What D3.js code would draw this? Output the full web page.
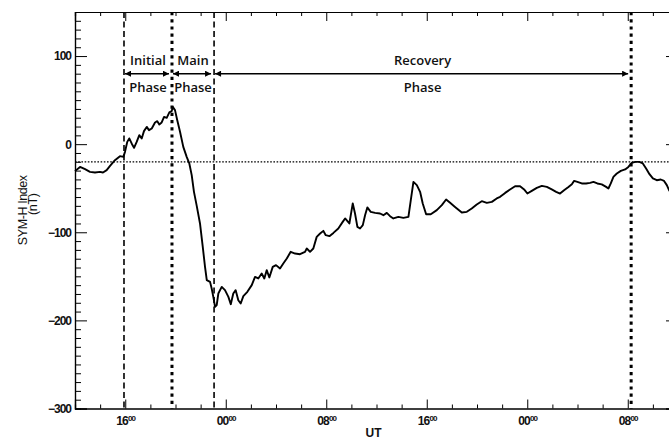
<!DOCTYPE html>
<html>
<head>
<meta charset="utf-8">
<script src="https://cdn.jsdelivr.net/npm/d3@7"></script>
<style>
  body { margin: 0; background: #fff; }
  svg { display: block; }
</style>
</head>
<body>
<svg id="chart" width="669" height="439"></svg>
<script>
// SYM-H index of the storm, hours counted from 12:00 UT on the first day
const hours = [
  0,0.40,0.80,1.19,1.59,1.99,2.23,2.52,2.79,3.18,
  3.58,3.85,3.98,4.16,4.32,4.51,4.70,4.91,5.12,5.31,
  5.49,5.71,5.89,6.11,6.37,6.55,6.71,6.90,7.09,7.30,
  7.51,7.70,7.78,7.96,8.14,8.36,8.62,8.89,9.10,9.29,
  9.47,9.69,9.95,10.17,10.35,10.49,10.75,10.88,11.01,11.15,
  11.28,11.41,11.68,11.94,12.21,12.40,12.60,12.79,13.00,13.19,
  13.40,13.72,14.07,14.33,14.59,14.86,15.07,15.26,15.47,15.74,
  16.00,16.32,16.58,16.86,17.17,17.52,17.91,18.31,18.45,18.71,
  18.97,19.24,19.51,19.77,19.96,20.25,20.57,20.96,21.31,21.50,
  21.84,22.11,22.29,22.48,22.69,22.91,23.09,23.27,23.54,23.89,
  24.28,24.55,24.82,25.08,25.34,25.74,26.14,26.54,26.73,26.94,
  27.21,27.47,27.68,27.95,28.32,28.80,29.20,29.54,29.86,30.25,
  30.79,31.19,31.58,31.98,32.38,32.78,33.18,33.57,33.84,34.24,
  34.63,35.03,35.43,35.75,36.01,36.36,36.76,37.16,37.56,37.95,
  38.30,38.61,38.93,39.28,39.55,39.73,39.99,40.34,40.68,41.00,
  41.27,41.58,41.93,42.28,42.46,42.65,42.86,43.13,43.45,43.79,
  44.05,44.32,44.59,44.93,45.20,45.46,45.73,46.00,46.31,46.63,
  46.89,47.11,47.29,47.5
];
const symh = [
  -30.6,-25.8,-28.4,-31.4,-32.1,-31.4,-32.1,-29.5,-24.6,-18.2,
  -13.6,-14.4,-8.7,2.6,6.5,0.8,-4.2,2.6,10.2,6.5,
  14.8,19.6,15.9,17.8,24.6,26.1,22.4,24.6,31.0,29.9,
  36.0,37.5,42.3,38.6,27.2,14.0,-3.1,-14.4,-21.9,-35.2,
  -54.1,-70,-90.0,-116.6,-139.3,-154.4,-156.3,-163.8,-173.3,-184.7,
  -182.7,-169.5,-162.0,-165.7,-173.3,-181.6,-169.5,-165.7,-177.1,-180.8,
  -172.5,-167.6,-160.0,-150.6,-152.4,-146.8,-152.4,-143.0,-151.3,-139.3,
  -137.3,-141.1,-135.4,-129.7,-122.2,-124.1,-124.9,-122.2,-118.4,-122.2,
  -118.4,-105.2,-101.4,-98.4,-103.3,-104.4,-100.7,-95.7,-88.2,-84.3,
  -90.0,-67.3,-78.7,-93.9,-95.7,-91.9,-80.6,-71.8,-76.8,-78.0,
  -78.7,-80.6,-78.0,-81.7,-84.3,-82.5,-83.7,-82.5,-63.6,-42.8,
  -46.5,-54.1,-67.3,-79.5,-79.5,-74.9,-69.2,-62.8,-66.6,-71.2,
  -77.5,-76.8,-73.0,-68.4,-64.7,-66.6,-65.5,-61.6,-59.8,-55.3,
  -51.4,-47.7,-47.7,-51.4,-56.0,-53.0,-49.6,-47.3,-48.5,-51.4,
  -54.1,-56.0,-52.2,-48.5,-45.4,-41.7,-42.8,-44.6,-44.6,-43.9,
  -42.8,-44.6,-45.7,-48.5,-50.3,-44.6,-37.1,-33.3,-30.3,-28.7,
  -25.8,-21.2,-20.1,-20.1,-21.9,-27.6,-34.1,-38.9,-40.9,-40.1,
  -41.7,-46.5,-52.2,-57
];

// Labelled UT ticks (hour offset, hour label; minutes drawn as superscript)
const tickHours = [4, 12, 20, 28, 36, 44];
const tickLabels = ["16", "00", "08", "16", "00", "08"];
const yTicks = [-300, -200, -100, 0, 100];

// Storm phase boundaries (hours) and their names
const phaseBounds = [3.9, 7.72, 11.07, 44.27];
const phaseStyle = ["thin", "thick", "thin", "thick"];
const phaseTop = ["Initial", "Main", "Recovery"];
const phaseBottom = ["Phase", "Phase", "Phase"];
const arrowLevel = 80;     // nT level of the phase arrows
const quietLevel = -20;    // nT reference line

const svg = d3.select("#chart");
const plotL = 75, plotR = 678, plotT = 12, plotB = 408.5;

const x = d3.scaleLinear().domain([0, 48]).range([plotL, plotR]);
const y = d3.scaleLinear().domain([-300, 150]).range([plotB, plotT]);

const tickFont = "'Liberation Sans', Arial, sans-serif";

// Axes: ticks point into the plot on all four sides
const gAxes = svg.append("g");

function styleAxis(g) {
  g.selectAll("path.domain").attr("stroke", "#000").attr("stroke-width", 1.2);
  g.selectAll(".tick line").attr("stroke", "#000").attr("stroke-width", 1);
}

const minorY = d3.range(-300, 151, 10).filter(v => v % 100 !== 0);
const minorX = d3.range(0, 49, 2).filter(h => !tickHours.includes(h));

// left
gAxes.append("g").attr("transform", `translate(${plotL},0)`)
  .call(d3.axisLeft(y).tickValues(minorY).tickSize(-6).tickFormat(""))
  .call(styleAxis);
const gLeft = gAxes.append("g").attr("transform", `translate(${plotL},0)`)
  .call(d3.axisLeft(y).tickValues(yTicks).tickSize(-12).tickPadding(4).tickFormat(d3.format("d")))
  .call(styleAxis);
gLeft.selectAll("text")
  .attr("font-family", tickFont).attr("font-size", 12).attr("font-weight", "bold")
  .attr("letter-spacing", -1).attr("fill", "#111");

// right
gAxes.append("g").attr("transform", `translate(${plotR},0)`)
  .call(d3.axisRight(y).tickValues(minorY).tickSize(-6).tickFormat(""))
  .call(styleAxis);
gAxes.append("g").attr("transform", `translate(${plotR},0)`)
  .call(d3.axisRight(y).tickValues(yTicks).tickSize(-12).tickFormat(""))
  .call(styleAxis);

// bottom
gAxes.append("g").attr("transform", `translate(0,${plotB})`)
  .call(d3.axisBottom(x).tickValues(minorX).tickSize(-4).tickFormat(""))
  .call(styleAxis);
const gBottom = gAxes.append("g").attr("transform", `translate(0,${plotB})`)
  .call(d3.axisBottom(x).tickValues(tickHours).tickSize(-9).tickPadding(8).tickFormat(""))
  .call(styleAxis);
gBottom.selectAll(".tick text").each(function (d, i) {
  const t = d3.select(this)
    .attr("font-family", tickFont).attr("font-size", 12).attr("font-weight", "bold")
    .attr("letter-spacing", -0.8).attr("fill", "#111");
  t.append("tspan").text(tickLabels[i]);
  t.append("tspan").attr("font-size", 8).attr("dy", "-0.55em").text("00");
});

// top
gAxes.append("g").attr("transform", `translate(0,${plotT})`)
  .call(d3.axisTop(x).tickValues(minorX).tickSize(-4).tickFormat(""))
  .call(styleAxis);
gAxes.append("g").attr("transform", `translate(0,${plotT})`)
  .call(d3.axisTop(x).tickValues(tickHours).tickSize(-9).tickFormat(""))
  .call(styleAxis);

// Axis titles
svg.append("text")
  .attr("transform", `translate(27,${(plotT + plotB) / 2}) rotate(-90)`)
  .attr("text-anchor", "middle").attr("fill", "#111")
  .attr("font-family", tickFont).attr("font-size", 12.5).attr("letter-spacing", -0.4)
  .text("SYM-H Index");
svg.append("text")
  .attr("transform", `translate(37,${(plotT + plotB) / 2 - 6}) rotate(-90)`)
  .attr("text-anchor", "middle").attr("fill", "#111")
  .attr("font-family", tickFont).attr("font-size", 12.5).attr("letter-spacing", -0.4)
  .text("(nT)");
svg.append("text")
  .attr("x", (plotL + plotR) / 2 - 3).attr("y", 437)
  .attr("text-anchor", "middle").attr("fill", "#111")
  .attr("font-family", tickFont).attr("font-size", 12).attr("font-weight", "bold")
  .text("UT");

// Quiet-time reference level
svg.append("line")
  .attr("x1", plotL).attr("x2", plotR)
  .attr("y1", y(quietLevel)).attr("y2", y(quietLevel))
  .attr("stroke", "#000").attr("stroke-width", 1.2)
  .attr("stroke-dasharray", "1.6,1.6");

// Phase boundaries
svg.append("g").selectAll("line").data(phaseBounds).join("line")
  .attr("x1", d => x(d)).attr("x2", d => x(d))
  .attr("y1", plotT).attr("y2", plotB)
  .attr("stroke", "#000")
  .attr("stroke-width", (d, i) => phaseStyle[i] === "thick" ? 3 : 1.6)
  .attr("stroke-dasharray", (d, i) => phaseStyle[i] === "thick" ? "3.2,4" : "6,3.5");

// SYM-H curve
svg.append("path")
  .datum(d3.zip(hours, symh))
  .attr("fill", "none")
  .attr("stroke", "#000")
  .attr("stroke-width", 1.9)
  .attr("stroke-linejoin", "round")
  .attr("d", d3.line().x(d => x(d[0])).y(d => y(d[1])));

// Arrow heads
const defs = svg.append("defs");
defs.append("marker").attr("id", "headEnd")
  .attr("viewBox", "0 0 10 10").attr("refX", 10).attr("refY", 5)
  .attr("markerWidth", 7).attr("markerHeight", 6).attr("markerUnits", "userSpaceOnUse")
  .attr("orient", "auto")
  .append("path").attr("d", "M0,0 L10,5 L0,10 Z").attr("fill", "#000");
defs.append("marker").attr("id", "headStart")
  .attr("viewBox", "0 0 10 10").attr("refX", 0).attr("refY", 5)
  .attr("markerWidth", 7).attr("markerHeight", 6).attr("markerUnits", "userSpaceOnUse")
  .attr("orient", "auto")
  .append("path").attr("d", "M10,0 L0,5 L10,10 Z").attr("fill", "#000");

// Phase annotations
const phases = d3.range(phaseTop.length).map(i => ({
  x0: phaseBounds[i], x1: phaseBounds[i + 1], name: phaseTop[i], sub: phaseBottom[i]
}));
const gPh = svg.append("g");
gPh.selectAll("line").data(phases).join("line")
  .attr("x1", d => x(d.x0) + 1).attr("x2", d => x(d.x1) - 3)
  .attr("y1", y(arrowLevel)).attr("y2", y(arrowLevel))
  .attr("stroke", "#000").attr("stroke-width", 1.6)
  .attr("marker-start", "url(#headStart)").attr("marker-end", "url(#headEnd)");
const labelFont = "'Open Sans', 'Noto Sans', sans-serif";
gPh.selectAll("text.name").data(phases).join("text").attr("class", "name")
  .attr("x", d => (x(d.x0) + x(d.x1)) / 2).attr("y", y(arrowLevel) - 9)
  .attr("text-anchor", "middle").attr("fill", "#111")
  .attr("font-family", labelFont).attr("font-size", 13).attr("font-weight", 600)
  .text(d => d.name);
gPh.selectAll("text.sub").data(phases).join("text").attr("class", "sub")
  .attr("x", d => (x(d.x0) + x(d.x1)) / 2).attr("y", y(arrowLevel) + 18)
  .attr("text-anchor", "middle").attr("fill", "#111")
  .attr("font-family", labelFont).attr("font-size", 13).attr("font-weight", 600)
  .text(d => d.sub);
</script>
</body>
</html>
